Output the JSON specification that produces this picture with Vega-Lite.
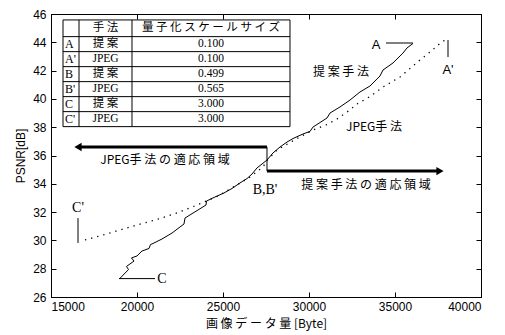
{
  "$schema": "https://vega.github.io/schema/vega-lite/v6.json",
  "width": 430,
  "height": 283,
  "autosize": {"type": "none"},
  "padding": {"left": 51, "top": 14, "right": 24, "bottom": 38},
  "background": "white",
  "config": {
    "view": {"stroke": "black", "strokeWidth": 1},
    "axis": {"domainColor": "black", "tickColor": "black", "labelColor": "black", "titleColor": "black", "labelFont": "Liberation Sans", "labelFontSize": 12, "grid": false}
  },
  "datasets": {
    "curves": [
      {"method": "提案", "i": 1, "x": 18971, "y": 27.27},
      {"method": "提案", "i": 2, "x": 19506, "y": 27.94},
      {"method": "提案", "i": 3, "x": 19390, "y": 28.16},
      {"method": "提案", "i": 4, "x": 19826, "y": 28.54},
      {"method": "提案", "i": 5, "x": 19680, "y": 28.76},
      {"method": "提案", "i": 6, "x": 20000, "y": 28.9},
      {"method": "提案", "i": 7, "x": 20291, "y": 29.25},
      {"method": "提案", "i": 8, "x": 20698, "y": 29.43},
      {"method": "提案", "i": 9, "x": 20785, "y": 29.71},
      {"method": "提案", "i": 10, "x": 20930, "y": 29.78},
      {"method": "提案", "i": 11, "x": 21454, "y": 30.1},
      {"method": "提案", "i": 12, "x": 22035, "y": 30.52},
      {"method": "提案", "i": 13, "x": 22500, "y": 30.95},
      {"method": "提案", "i": 14, "x": 22733, "y": 31.16},
      {"method": "提案", "i": 15, "x": 22791, "y": 31.58},
      {"method": "提案", "i": 16, "x": 23081, "y": 31.8},
      {"method": "提案", "i": 17, "x": 23547, "y": 32.15},
      {"method": "提案", "i": 18, "x": 24012, "y": 32.5},
      {"method": "提案", "i": 19, "x": 24041, "y": 32.78},
      {"method": "提案", "i": 20, "x": 24535, "y": 33.07},
      {"method": "提案", "i": 21, "x": 25058, "y": 33.35},
      {"method": "提案", "i": 22, "x": 25523, "y": 33.67},
      {"method": "提案", "i": 23, "x": 25988, "y": 34.06},
      {"method": "提案", "i": 24, "x": 26395, "y": 34.37},
      {"method": "提案", "i": 25, "x": 26686, "y": 34.69},
      {"method": "提案", "i": 26, "x": 26977, "y": 35.12},
      {"method": "提案", "i": 27, "x": 27268, "y": 35.4},
      {"method": "提案", "i": 28, "x": 27558, "y": 35.68},
      {"method": "提案", "i": 29, "x": 27907, "y": 36.18},
      {"method": "提案", "i": 30, "x": 28314, "y": 36.6},
      {"method": "提案", "i": 31, "x": 28721, "y": 36.95},
      {"method": "提案", "i": 32, "x": 29070, "y": 37.2},
      {"method": "提案", "i": 33, "x": 29651, "y": 37.52},
      {"method": "提案", "i": 34, "x": 30058, "y": 37.7},
      {"method": "提案", "i": 35, "x": 30233, "y": 38.01},
      {"method": "提案", "i": 36, "x": 30640, "y": 38.33},
      {"method": "提案", "i": 37, "x": 31047, "y": 38.65},
      {"method": "提案", "i": 38, "x": 31221, "y": 39.0},
      {"method": "提案", "i": 39, "x": 31802, "y": 39.43},
      {"method": "提案", "i": 40, "x": 32384, "y": 39.92},
      {"method": "提案", "i": 41, "x": 32965, "y": 40.49},
      {"method": "提案", "i": 42, "x": 33547, "y": 40.91},
      {"method": "提案", "i": 43, "x": 33954, "y": 41.41},
      {"method": "提案", "i": 44, "x": 34128, "y": 41.62},
      {"method": "提案", "i": 45, "x": 34302, "y": 42.04},
      {"method": "提案", "i": 46, "x": 34884, "y": 42.54},
      {"method": "提案", "i": 47, "x": 35465, "y": 43.24},
      {"method": "提案", "i": 48, "x": 35698, "y": 43.6},
      {"method": "提案", "i": 49, "x": 36047, "y": 43.92},
      {"method": "JPEG", "i": 1, "x": 16977, "y": 30.03},
      {"method": "JPEG", "i": 2, "x": 18023, "y": 30.38},
      {"method": "JPEG", "i": 3, "x": 19012, "y": 30.74},
      {"method": "JPEG", "i": 4, "x": 20000, "y": 31.09},
      {"method": "JPEG", "i": 5, "x": 21163, "y": 31.48},
      {"method": "JPEG", "i": 6, "x": 22326, "y": 31.94},
      {"method": "JPEG", "i": 7, "x": 23488, "y": 32.5},
      {"method": "JPEG", "i": 8, "x": 24651, "y": 33.1},
      {"method": "JPEG", "i": 9, "x": 25814, "y": 33.92},
      {"method": "JPEG", "i": 10, "x": 26570, "y": 34.48},
      {"method": "JPEG", "i": 11, "x": 27326, "y": 35.19},
      {"method": "JPEG", "i": 12, "x": 27558, "y": 35.65},
      {"method": "JPEG", "i": 13, "x": 28140, "y": 36.39},
      {"method": "JPEG", "i": 14, "x": 29302, "y": 37.2},
      {"method": "JPEG", "i": 15, "x": 30233, "y": 37.8},
      {"method": "JPEG", "i": 16, "x": 31047, "y": 38.19},
      {"method": "JPEG", "i": 17, "x": 31628, "y": 38.58},
      {"method": "JPEG", "i": 18, "x": 32384, "y": 39.22},
      {"method": "JPEG", "i": 19, "x": 32791, "y": 39.64},
      {"method": "JPEG", "i": 20, "x": 33547, "y": 40.17},
      {"method": "JPEG", "i": 21, "x": 34302, "y": 40.84},
      {"method": "JPEG", "i": 22, "x": 35291, "y": 41.55},
      {"method": "JPEG", "i": 23, "x": 35873, "y": 42.15},
      {"method": "JPEG", "i": 24, "x": 36454, "y": 42.75},
      {"method": "JPEG", "i": 25, "x": 37035, "y": 43.31},
      {"method": "JPEG", "i": 26, "x": 37616, "y": 43.92},
      {"method": "JPEG", "i": 27, "x": 37907, "y": 44.16}
    ],
    "grid": [
      {"x": 15698, "x2": 28895, "y": 45.58, "y2": 45.58},
      {"x": 15698, "x2": 28895, "y": 44.4, "y2": 44.4},
      {"x": 15698, "x2": 28895, "y": 43.34, "y2": 43.34},
      {"x": 15698, "x2": 28895, "y": 42.28, "y2": 42.28},
      {"x": 15698, "x2": 28895, "y": 41.22, "y2": 41.22},
      {"x": 15698, "x2": 28895, "y": 40.16, "y2": 40.16},
      {"x": 15698, "x2": 28895, "y": 39.1, "y2": 39.1},
      {"x": 15698, "x2": 28895, "y": 38.04, "y2": 38.04},
      {"x": 15698, "x2": 15698, "y": 45.58, "y2": 38.04},
      {"x": 16628, "x2": 16628, "y": 45.58, "y2": 38.04},
      {"x": 19709, "x2": 19709, "y": 45.58, "y2": 38.04},
      {"x": 28895, "x2": 28895, "y": 45.58, "y2": 38.04}
    ],
    "leaders": [
      {"x": 34477, "x2": 36047, "y": 43.95, "y2": 43.95},
      {"x": 38082, "x2": 38082, "y": 44.16, "y2": 42.96},
      {"x": 16570, "x2": 16570, "y": 31.58, "y2": 29.82},
      {"x": 18953, "x2": 21047, "y": 27.3, "y2": 27.3},
      {"x": 27558, "x2": 27558, "y": 36.6, "y2": 34.9}
    ],
    "arrows": [
      {"x": 16686, "x2": 27558, "y": 36.6, "y2": 36.6},
      {"x": 27558, "x2": 37500, "y": 34.9, "y2": 34.9}
    ],
    "heads": [
      {"x": 16570, "y": 36.6, "dir": "left"},
      {"x": 37616, "y": 34.9, "dir": "right"}
    ],
    "plotSans": [
      {"t": "A", "x": 33896, "y": 43.81},
      {"t": "A'", "x": 38082, "y": 42.04}
    ],
    "plotSerif": [
      {"t": "C'", "x": 16570, "y": 32.29},
      {"t": "C", "x": 21454, "y": 27.27},
      {"t": "B,B'", "x": 27442, "y": 33.56}
    ],
    "plotCJK": [
      {"t": "提 案 手 法", "x": 31861, "y": 41.9},
      {"t": "JPEG手 法", "x": 33779, "y": 38.01},
      {"t": "JPEG手 法 の 適 応 領 域", "x": 21628, "y": 35.68},
      {"t": "提 案 手 法 の 適 応 領 域", "x": 33314, "y": 33.92}
    ],
    "tableLeft": [
      {"t": "A", "x": 15814, "y": 43.87},
      {"t": "A'", "x": 15814, "y": 42.81},
      {"t": "B", "x": 15814, "y": 41.75},
      {"t": "B'", "x": 15814, "y": 40.69},
      {"t": "C", "x": 15814, "y": 39.63},
      {"t": "C'", "x": 15814, "y": 38.57}
    ],
    "tableSerif": [
      {"t": "JPEG", "x": 18169, "y": 42.81},
      {"t": "JPEG", "x": 18169, "y": 40.69},
      {"t": "JPEG", "x": 18169, "y": 38.57},
      {"t": "0.100", "x": 24302, "y": 43.87},
      {"t": "0.100", "x": 24302, "y": 42.81},
      {"t": "0.499", "x": 24302, "y": 41.75},
      {"t": "0.565", "x": 24302, "y": 40.69},
      {"t": "3.000", "x": 24302, "y": 39.63},
      {"t": "3.000", "x": 24302, "y": 38.57}
    ],
    "tableCJK": [
      {"t": "手 法", "x": 18169, "y": 44.99},
      {"t": "量 子 化 ス ケ ー ル サ イ ズ", "x": 24302, "y": 44.99},
      {"t": "提 案", "x": 18169, "y": 43.87},
      {"t": "提 案", "x": 18169, "y": 41.75},
      {"t": "提 案", "x": 18169, "y": 39.63}
    ]
  },
  "resolve": {"axis": {"x": "independent", "y": "independent"}},
  "layer": [
    {
      "data": {"name": "curves"},
      "transform": [{"filter": "datum.method === '提案'"}],
      "mark": {"type": "line", "color": "black", "strokeWidth": 1},
      "encoding": {
        "x": {"field": "x", "type": "quantitative", "scale": {"domain": [15000, 40000], "nice": false, "zero": false},
          "axis": {"orient": "bottom", "title": "画 像 デ ー タ 量 [Byte]", "titleFont": "Noto Sans CJK JP", "titleFontSize": 12, "titleFontWeight": "normal", "titlePadding": 6, "values": [15000, 20000, 25000, 30000, 35000, 40000], "format": "d", "tickSize": -5, "labelPadding": 9}},
        "y": {"field": "y", "type": "quantitative", "scale": {"domain": [26, 46], "nice": false, "zero": false},
          "axis": {"orient": "left", "title": "PSNR[dB]", "titleFont": "Liberation Sans", "titleFontSize": 12, "titleFontWeight": "normal", "titlePadding": 5, "values": [26, 28, 30, 32, 34, 36, 38, 40, 42, 44, 46], "tickSize": -5, "labelPadding": 10}},
        "order": {"field": "i", "type": "quantitative"}
      }
    },
    {
      "data": {"name": "curves"},
      "transform": [{"filter": "datum.method === 'JPEG'"}],
      "mark": {"type": "line", "color": "black", "strokeWidth": 1.3, "strokeDash": [1.3, 5]},
      "encoding": {
        "x": {"field": "x", "type": "quantitative",
          "axis": {"orient": "top", "title": null, "labels": false, "values": [15000, 20000, 25000, 30000, 35000, 40000], "tickSize": -5}},
        "y": {"field": "y", "type": "quantitative",
          "axis": {"orient": "right", "title": null, "labels": false, "values": [26, 28, 30, 32, 34, 36, 38, 40, 42, 44, 46], "tickSize": -5}},
        "order": {"field": "i", "type": "quantitative"}
      }
    },
    {
      "data": {"name": "grid"},
      "mark": {"type": "rule", "color": "black", "strokeWidth": 1},
      "encoding": {
        "x": {"field": "x", "type": "quantitative", "axis": null}, "x2": {"field": "x2"},
        "y": {"field": "y", "type": "quantitative", "axis": null}, "y2": {"field": "y2"}
      }
    },
    {
      "data": {"name": "leaders"},
      "mark": {"type": "rule", "color": "black", "strokeWidth": 1},
      "encoding": {
        "x": {"field": "x", "type": "quantitative", "axis": null}, "x2": {"field": "x2"},
        "y": {"field": "y", "type": "quantitative", "axis": null}, "y2": {"field": "y2"}
      }
    },
    {
      "data": {"name": "arrows"},
      "mark": {"type": "rule", "color": "black", "strokeWidth": 3},
      "encoding": {
        "x": {"field": "x", "type": "quantitative", "axis": null}, "x2": {"field": "x2"},
        "y": {"field": "y", "type": "quantitative", "axis": null}, "y2": {"field": "y2"}
      }
    },
    {
      "data": {"name": "heads"},
      "mark": {"type": "point", "filled": true, "color": "black", "opacity": 1, "size": 70},
      "encoding": {
        "x": {"field": "x", "type": "quantitative", "axis": null},
        "y": {"field": "y", "type": "quantitative", "axis": null},
        "shape": {"field": "dir", "type": "nominal", "scale": {"domain": ["left", "right"], "range": ["triangle-left", "triangle-right"]}, "legend": null}
      }
    },
    {
      "data": {"name": "plotSans"},
      "mark": {"type": "text", "font": "Liberation Sans", "fontSize": 13, "color": "black", "align": "center", "baseline": "middle"},
      "encoding": {
        "x": {"field": "x", "type": "quantitative", "axis": null},
        "y": {"field": "y", "type": "quantitative", "axis": null},
        "text": {"field": "t"}
      }
    },
    {
      "data": {"name": "plotSerif"},
      "mark": {"type": "text", "font": "Liberation Serif", "fontSize": 14, "color": "black", "align": "center", "baseline": "middle"},
      "encoding": {
        "x": {"field": "x", "type": "quantitative", "axis": null},
        "y": {"field": "y", "type": "quantitative", "axis": null},
        "text": {"field": "t"}
      }
    },
    {
      "data": {"name": "plotCJK"},
      "mark": {"type": "text", "font": "Noto Sans CJK JP", "fontSize": 12, "color": "black", "align": "center", "baseline": "middle"},
      "encoding": {
        "x": {"field": "x", "type": "quantitative", "axis": null},
        "y": {"field": "y", "type": "quantitative", "axis": null},
        "text": {"field": "t"}
      }
    },
    {
      "data": {"name": "tableLeft"},
      "mark": {"type": "text", "font": "Liberation Serif", "fontSize": 12, "color": "black", "align": "left", "baseline": "middle"},
      "encoding": {
        "x": {"field": "x", "type": "quantitative", "axis": null},
        "y": {"field": "y", "type": "quantitative", "axis": null},
        "text": {"field": "t"}
      }
    },
    {
      "data": {"name": "tableSerif"},
      "mark": {"type": "text", "font": "Liberation Serif", "fontSize": 11.5, "color": "black", "align": "center", "baseline": "middle"},
      "encoding": {
        "x": {"field": "x", "type": "quantitative", "axis": null},
        "y": {"field": "y", "type": "quantitative", "axis": null},
        "text": {"field": "t"}
      }
    },
    {
      "data": {"name": "tableCJK"},
      "mark": {"type": "text", "font": "Noto Sans CJK JP", "fontSize": 11.5, "color": "black", "align": "center", "baseline": "middle"},
      "encoding": {
        "x": {"field": "x", "type": "quantitative", "axis": null},
        "y": {"field": "y", "type": "quantitative", "axis": null},
        "text": {"field": "t"}
      }
    }
  ]
}
